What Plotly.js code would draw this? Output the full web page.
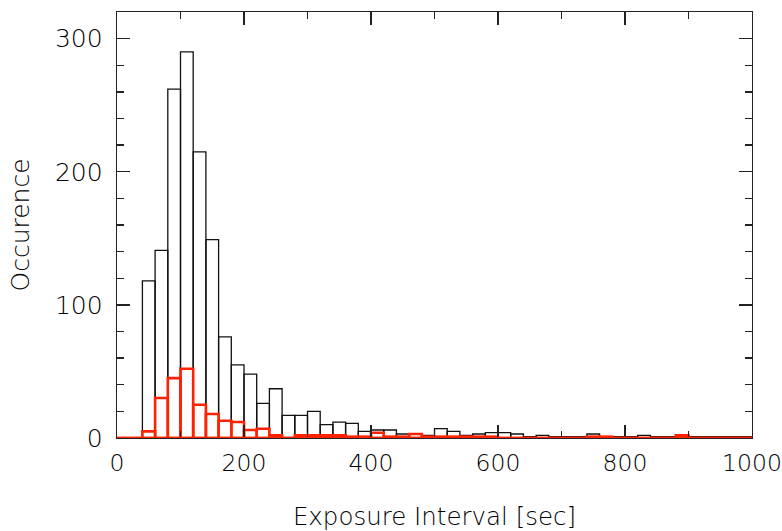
<!DOCTYPE html>
<html>
<head>
<meta charset="utf-8">
<script src="https://cdn.plot.ly/plotly-3.0.1.min.js"></script>
<style>html,body{margin:0;padding:0;background:#fff;}#chart{width:782px;height:531px;}</style>
</head>
<body>
<div id="chart"></div>
<script>
// Bin centres (bin width 20 sec)
const binCenters = [10,30,50,70,90,110,130,150,170,190,210,230,250,270,290,310,330,350,370,390,
  410,430,450,470,490,510,530,550,570,590,610,630,650,670,690,710,730,750,770,790,
  810,830,850,870,890,910,930,950,970,990];
// All exposures (black)
const allCounts = [0,0,118,141,262,290,215,149,76,55,48,26,37,17,17,20,10,12,11,5,
  6,6,3,3,2,7,5,2,3,4,4,3,1,2,1,1,1,3,1,1,
  1,2,1,1,1,1,1,1,1,1];
// Subset (red)
const subCounts = [0,0,5,30,45,52,25,18,13,12,6,7,2,0,2,2,2,2,1,1,
  4,1,1,3,1,1,1,1,1,1,0,0,0,0,0,0,0,1,1,0,
  0,0,0,0,2,0,0,0,0,0];
const xTicks = [0,200,400,600,800,1000];
const yTicks = [0,100,200,300];

const fontFam = '"DejaVu Sans", "Liberation Sans", sans-serif';
const txtColor = '#000';

const traces = [
  {type:'bar', x:binCenters, y:allCounts, width:20,
   marker:{color:'rgba(0,0,0,0)', line:{color:'#111', width:1.3}},
   hoverinfo:'skip', showlegend:false},
  {type:'bar', x:binCenters, y:subCounts, width:20,
   marker:{color:'rgba(0,0,0,0)', line:{color:'#ff2200', width:2.6}},
   hoverinfo:'skip', showlegend:false}
];

const axisCommon = {
  showline:true, linecolor:'#222', linewidth:1.3, mirror:'ticks',
  ticks:'inside', ticklen:13, tickwidth:1.3, tickcolor:'#222',
  showgrid:false, zeroline:false, ticklabeloverflow:'allow',
  tickfont:{family:fontFam, size:25, color:txtColor, weight:300}
};

const layout = {
  width:782, height:531,
  margin:{l:117, r:30, t:12, b:93},
  paper_bgcolor:'#fff', plot_bgcolor:'#fff',
  barmode:'overlay',
  font:{family:fontFam, color:txtColor},
  xaxis:Object.assign({}, axisCommon, {
    range:[0,1000], tickmode:'array', tickvals:xTicks, ticktext:xTicks.map(String),
    ticklabelstandoff:3,
    tickfont:{family:fontFam, size:23.5, color:txtColor, weight:300},
    minor:{dtick:100, tick0:0, ticks:'inside', ticklen:7, tickwidth:1.3, tickcolor:'#222'},
    title:{text:'Exposure Interval [sec]', font:{family:fontFam, size:24.5, color:txtColor, weight:300}, standoff:32}
  }),
  yaxis:Object.assign({}, axisCommon, {
    range:[0,320], tickmode:'array', tickvals:yTicks, ticktext:yTicks.map(String),
    ticklabelstandoff:8,
    minor:{dtick:20, tick0:0, ticks:'inside', ticklen:7, tickwidth:1.3, tickcolor:'#222'},
    title:{text:'Occurence', font:{family:fontFam, size:25, color:txtColor, weight:300}, standoff:18}
  }),
  shapes:[{type:'line', xref:'paper', yref:'y', x0:0, x1:1, y0:0, y1:0,
    line:{color:'#ff2200', width:2.6}, layer:'above'}]
};

Plotly.newPlot('chart', traces, layout, {staticPlot:true, displayModeBar:false});
</script>
</body>
</html>
